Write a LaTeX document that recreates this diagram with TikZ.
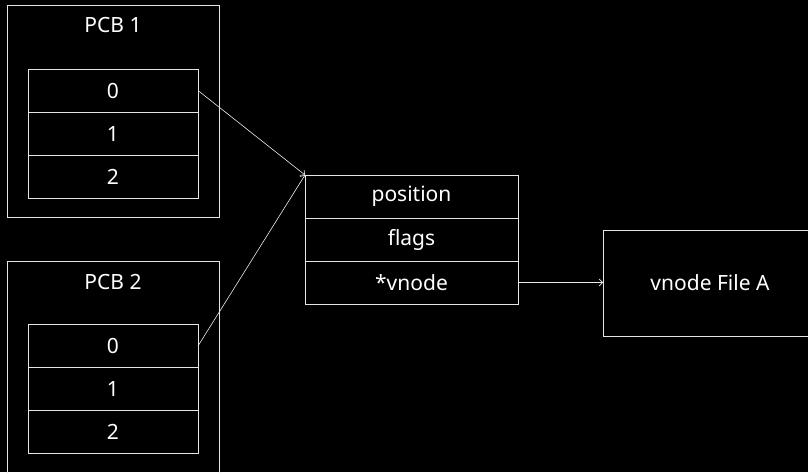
\documentclass[tikz,border=0pt]{standalone}
\usepackage{fontspec}
\setmainfont{Noto Sans}
\usetikzlibrary{arrows.meta}
\begin{document}
\begin{tikzpicture}[x=1pt,y=-1pt,
  ln/.style={draw=white!90!black, line width=0.8pt},
  txt/.style={text=white, font=\fontsize{21}{25}\selectfont},
  cell/.style={ln, txt, rectangle, inner sep=0pt, outer sep=0pt,
    minimum width=170pt, minimum height=43pt},
  ocell/.style={cell, minimum width=213pt},
  frame/.style={ln, rectangle, inner sep=0pt, outer sep=0pt},
  lbl/.style={txt, inner sep=0pt},
  arr/.style={draw=white!92!black, line width=0.6pt, -{Straight Barb[length=3.5pt,width=7pt]}}]
\fill[black] (0,0) rectangle (808,472);
\useasboundingbox (0,0) rectangle (808,472);
% PCB 1
\node[frame, minimum width=212pt, minimum height=212pt] (pcb1) at (113,111) {};
\node[lbl] (pcb1l) at (113,25) {PCB 1};
\node[cell] (a0) at (113,90.5) {0};
\node[cell] (a1) at (113,133.5) {1};
\node[cell] (a2) at (113,176.5) {2};
% PCB 2
\node[frame, minimum width=212pt, minimum height=220pt] (pcb2) at (113,371) {};
\node[lbl] (pcb2l) at (113,282) {PCB 2};
\node[cell] (b0) at (113,346) {0};
\node[cell] (b1) at (113,389) {1};
\node[cell] (b2) at (113,432) {2};
% open file entry
\node[ocell] (f0) at (411.5,196.5) {position};
\node[ocell] (f1) at (411.5,239.5) {flags};
\node[ocell] (f2) at (411.5,282.5) {*vnode};
% vnode
\node[frame, txt, minimum width=214pt, minimum height=106pt] (vn) at (710,283) {vnode File A};
% arrows
\draw[arr] (a0.east) -- (f0.north west);
\draw[arr] (b0.east) -- (f0.north west);
\draw[arr] (f2.east) -- (vn.west |- f2.east);
\end{tikzpicture}
\end{document}
